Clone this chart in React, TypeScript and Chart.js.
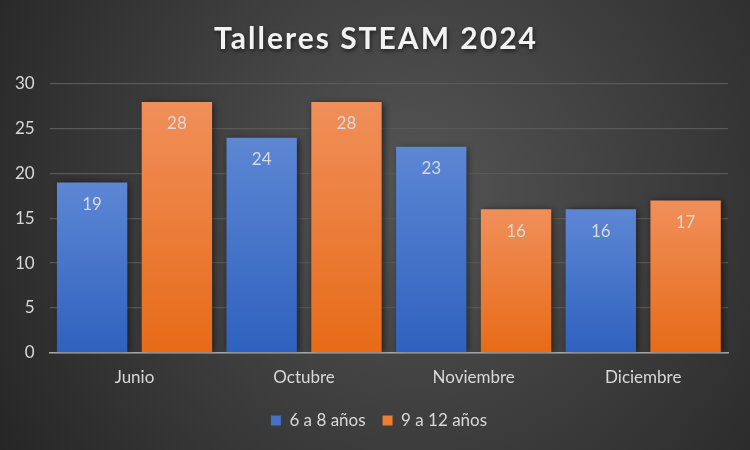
import { useEffect, useRef } from 'react';
import { Chart, registerables } from 'chart.js';

Chart.register(...registerables);

const title = 'Talleres STEAM 2024';
const months = ['Junio', 'Octubre', 'Noviembre', 'Diciembre'];
const kids6to8 = [19, 24, 23, 16];
const kids9to12 = [28, 28, 16, 17];
const seriesNames = ['6 a 8 años', '9 a 12 años'];
const yTicks = [0, 5, 10, 15, 20, 25, 30];

const FONT = 'Lato, "Open Sans", sans-serif';
const TEXT = '#d9d9d9';

// vertical gradient per bar, light at the top
function barGradient(top: string, bottom: string) {
  return (ctx: any) => {
    const chart = ctx.chart;
    const area = chart.chartArea;
    const y = chart.scales?.y;
    if (!area || !y || ctx.raw == null) return bottom;
    const yTop = y.getPixelForValue(ctx.raw);
    if (!isFinite(yTop) || yTop >= area.bottom) return bottom;
    const g = chart.ctx.createLinearGradient(0, yTop, 0, area.bottom);
    g.addColorStop(0, top);
    g.addColorStop(1, bottom);
    return g;
  };
}

const backdrop = {
  id: 'backdrop',
  beforeDraw(chart: any) {
    const { ctx, width, height } = chart;
    ctx.save();
    const g = ctx.createRadialGradient(width * 0.55, height * 0.42, 0, width * 0.55, height * 0.42, width * 0.65);
    g.addColorStop(0, '#555555');
    g.addColorStop(1, '#262626');
    ctx.fillStyle = g;
    ctx.fillRect(0, 0, width, height);

    ctx.font = `bold 30px ${FONT}`;
    (ctx as any).letterSpacing = '2px';
    ctx.textAlign = 'center';
    ctx.textBaseline = 'middle';
    ctx.shadowColor = 'rgba(0,0,0,0.6)';
    ctx.shadowBlur = 4;
    ctx.shadowOffsetX = 1;
    ctx.shadowOffsetY = 2;
    ctx.fillStyle = '#f2f2f2';
    ctx.fillText(title, width / 2 + 1, 39);
    ctx.restore();
  },
  // nudge the legend a bit right, like the original
  afterLayout(chart: any) {
    const lg = chart.legend;
    if (!lg) return;
    const shift = chart.width / 2 + 4 - (lg.left + lg.right) / 2;
    lg.left += shift;
    lg.right += shift;
  },
};

const barLook = {
  id: 'barLook',
  beforeDatasetsDraw(chart: any) {
    const ctx = chart.ctx;
    ctx.save();
    ctx.shadowColor = 'rgba(0,0,0,0.55)';
    ctx.shadowBlur = 7;
    ctx.shadowOffsetX = 2;
    ctx.shadowOffsetY = 1;
  },
  afterDatasetsDraw(chart: any) {
    const ctx = chart.ctx;
    ctx.restore();
    ctx.save();
    ctx.font = `17px ${FONT}`;
    ctx.fillStyle = TEXT;
    ctx.textAlign = 'center';
    ctx.textBaseline = 'middle';
    chart.data.datasets.forEach((ds: any, i: number) => {
      chart.getDatasetMeta(i).data.forEach((bar: any, j: number) => {
        ctx.fillText(String(ds.data[j]), bar.x, bar.y + 22);
      });
    });
    ctx.restore();
  },
};

export default function App() {
  const canvasRef = useRef<HTMLCanvasElement>(null);

  useEffect(() => {
    if (!canvasRef.current) return;
    const chart = new Chart(canvasRef.current, {
      type: 'bar',
      data: {
        labels: months,
        datasets: [
          {
            label: seriesNames[0],
            data: kids6to8,
            backgroundColor: barGradient('#5d87d4', '#2f61be'),
            borderWidth: 0,
          },
          {
            label: seriesNames[1],
            data: kids9to12,
            backgroundColor: barGradient('#f08f5a', '#e76b18'),
            borderWidth: 0,
          },
        ],
      },
      options: {
        responsive: false,
        animation: false,
        layout: { padding: { top: 84, left: 0, right: 22, bottom: 11 } },
        datasets: {
          bar: { categoryPercentage: 1, barPercentage: 0.83 },
        },
        plugins: {
          title: { display: false },
          tooltip: { enabled: false },
          legend: {
            position: 'bottom',
            labels: {
              color: TEXT,
              font: { family: FONT, size: 17 },
              boxWidth: 10,
              boxHeight: 10,
              padding: 17,
              generateLabels: (c: any) =>
                c.data.datasets.map((ds: any, i: number) => ({
                  text: ds.label,
                  fillStyle: i === 0 ? '#4472c4' : '#ed7d31',
                  strokeStyle: 'transparent',
                  lineWidth: 0,
                  fontColor: TEXT,
                  datasetIndex: i,
                })),
            },
          },
        },
        scales: {
          x: {
            grid: { display: false },
            border: { display: true, color: '#a6a6a6', width: 1.5 },
            ticks: { color: TEXT, font: { family: FONT, size: 17 }, padding: 7 },
          },
          y: {
            min: 0,
            max: 30,
            afterBuildTicks: (axis: any) => {
              axis.ticks = yTicks.map((v) => ({ value: v }));
            },
            grid: { color: '#595959', lineWidth: 1.2, drawTicks: false },
            border: { display: false },
            ticks: { color: TEXT, font: { family: FONT, size: 17 }, padding: 15 },
          },
        },
      },
      plugins: [backdrop, barLook],
    });
    return () => chart.destroy();
  }, []);

  return (
    <div style={{ position: 'absolute', left: 0, top: 0, width: 750, height: 450 }}>
      <canvas ref={canvasRef} width={750} height={450} />
    </div>
  );
}
